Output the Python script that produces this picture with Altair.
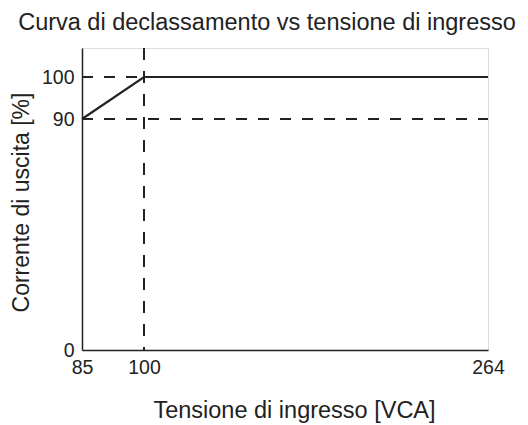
import altair as alt
import pandas as pd

# Data
curve_x = [85, 100, 264]
curve_y = [90, 100, 100]
x_ticks = [85, 100, 264]
y_ticks = [0, 90, 100]
x_domain = [85, 100, 264]
y_domain = [0, 90, 100, 107]

curve = pd.DataFrame({"v": curve_x, "i": curve_y})
hrules = pd.DataFrame({"x1": [85, 85], "x2": [100, 264], "y": [100, 90]})
vrules = pd.DataFrame({"x": [100], "y1": [107], "y2": [0]})

W, H = 406, 302
xscale = alt.Scale(domain=x_domain, range=[0, 62, W])
yscale = alt.Scale(domain=y_domain, range=[H, 71, 29, 0])

FONT = "Liberation Sans"
INK = "#222222"

xaxis = alt.Axis(values=x_ticks, grid=False, ticks=False, labelPadding=8,
                 labelFontSize=19.5, labelColor=INK, labelFont=FONT,
                 title="Tensione di ingresso [VCA]", titleFontSize=23.5,
                 titleFont=FONT, titleFontWeight="normal", titleColor=INK,
                 titleX=212, titleY=67, titleBaseline="alphabetic",
                 domainColor=INK, domainWidth=1.5, labelFlush=False)
yaxis = alt.Axis(values=y_ticks, grid=False, ticks=False, labelPadding=8,
                 labelFontSize=19.5, labelColor=INK, labelFont=FONT,
                 title="Corrente di uscita [%]", titleFontSize=23,
                 titleFont=FONT, titleFontWeight="normal", titleColor=INK,
                 titleX=-54, titleY=154, titleBaseline="alphabetic", titleAngle=-90,
                 domainColor=INK, domainWidth=1.5, labelFlush=False)

line = alt.Chart(curve).mark_line(color=INK, strokeWidth=2.2).encode(
    x=alt.X("v:Q", scale=xscale, axis=xaxis),
    y=alt.Y("i:Q", scale=yscale, axis=yaxis),
)
hr = alt.Chart(hrules).mark_rule(color=INK, strokeWidth=2, strokeDash=[11, 11]).encode(
    x=alt.X("x1:Q", scale=xscale), x2="x2:Q", y=alt.Y("y:Q", scale=yscale)
)
vr = alt.Chart(vrules).mark_rule(color=INK, strokeWidth=2, strokeDash=[12, 11]).encode(
    x=alt.X("x:Q", scale=xscale), y=alt.Y("y1:Q", scale=yscale), y2="y2:Q"
)

chart = alt.layer(hr, vr, line).properties(
    width=W, height=H,
    autosize=alt.AutoSizeParams(type="none"),
    padding={"left": 74, "top": 40, "right": 32, "bottom": 77},
    title=alt.TitleParams("Curva di declassamento vs tensione di ingresso",
                          fontSize=23.5, font=FONT, fontWeight="normal",
                          color=INK, anchor="middle", dx=-18, offset=13),
).configure_view(stroke="#777777", strokeWidth=1.5).configure(background="white")

chart.save("out.html", embed_options={"renderer": "svg", "actions": False})
